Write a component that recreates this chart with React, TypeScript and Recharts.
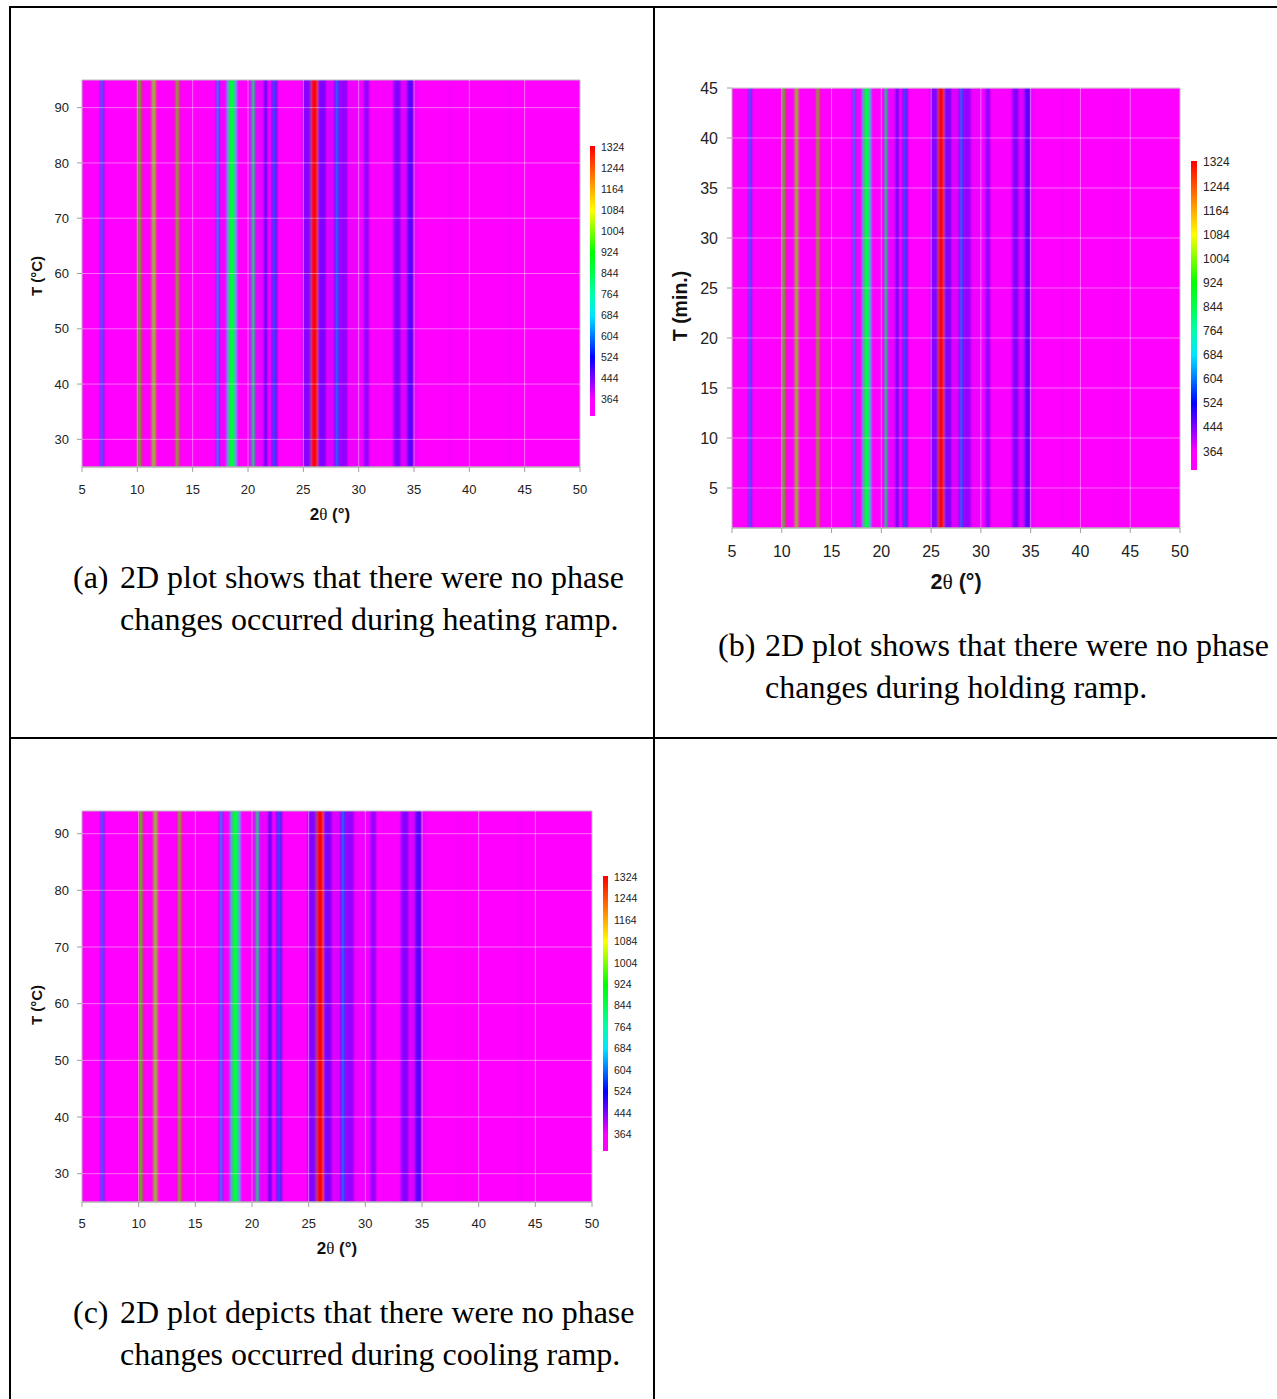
import React from "react";
import { ComposedChart, XAxis, YAxis, Scatter, ReferenceArea, ReferenceLine } from "recharts";

// diffraction intensity bands along 2θ: [from, to, counts]
const bands: [number, number, number][] = [
  [6.68, 6.75, 520], [6.75, 6.88, 650], [6.88, 6.95, 520],
  [10.02, 10.1, 1290], [10.1, 10.32, 930], [10.32, 10.4, 1290],
  [11.3, 11.38, 1200], [11.38, 11.6, 980], [11.6, 11.66, 1200],
  [13.45, 13.52, 1290], [13.52, 13.72, 960], [13.72, 13.8, 1290],
  [17.15, 17.22, 520], [17.22, 17.4, 660], [17.4, 17.48, 520],
  [17.48, 18.1, 370],
  [18.1, 18.25, 700], [18.25, 18.82, 860], [18.82, 18.96, 700],
  [20.3, 20.38, 600], [20.38, 20.62, 840], [20.62, 20.7, 600],
  [20.7, 21.45, 376],
  [21.45, 21.78, 470],
  [21.78, 22.2, 376],
  [22.2, 22.3, 520], [22.3, 22.5, 600], [22.5, 22.6, 520],
  [24.95, 25.55, 440], [25.55, 25.7, 480],
  [25.7, 25.78, 1000], [25.78, 26.28, 1324], [26.28, 26.36, 1050],
  [26.36, 27.1, 445],
  [27.1, 27.85, 385],
  [27.85, 27.95, 520], [27.95, 28.2, 610], [28.2, 28.3, 520],
  [28.3, 29.05, 430],
  [29.05, 30.3, 374],
  [30.45, 31.0, 430],
  [31.0, 33.15, 368],
  [33.15, 33.85, 440],
  [33.85, 34.4, 385],
  [34.4, 35.0, 470],
  [35.0, 35.4, 374],
  [37.9, 38.5, 368],
  [43.4, 44.0, 367],
];
const baseCounts = 364;

const twoThetaTicks = [5, 10, 15, 20, 25, 30, 35, 40, 45, 50];
const tempTicks = [30, 40, 50, 60, 70, 80, 90];
const timeTicks = [5, 10, 15, 20, 25, 30, 35, 40, 45];
const scaleTicks = [1324, 1244, 1164, 1084, 1004, 924, 844, 764, 684, 604, 524, 444, 364];
const scaleDomain: [number, number] = [302, 1328];

// hue of the rainbow scale at each count level
const hueStops: [number, number][] = [
  [364, 300], [444, 270], [524, 240], [604, 212], [684, 186], [764, 160],
  [844, 138], [924, 120], [1004, 90], [1084, 60], [1164, 40], [1244, 20], [1324, 0],
];

function countColor(v: number) {
  if (v <= hueStops[0][0]) return "hsl(300,100%,50%)";
  for (let i = 1; i < hueStops.length; i++) {
    const [v0, h0] = hueStops[i - 1];
    const [v1, h1] = hueStops[i];
    if (v <= v1) return `hsl(${h0 + ((h1 - h0) * (v - v0)) / (v1 - v0)},100%,50%)`;
  }
  return "hsl(0,100%,50%)";
}

const sans = "'Liberation Sans', Arial, sans-serif";
const serif = "'Liberation Serif', 'Times New Roman', serif";

type Box = { x: number; y: number; w: number; h: number };
type Bar = { x: number; top: number; bottom: number; w: number; font: number };

// invisible corner points so the axes get a data range
const Hidden = () => <g />;

function ColorBar({ bar, id }: { bar: Bar; id: string }) {
  const h = bar.bottom - bar.top;
  const span = scaleDomain[1] - scaleDomain[0];
  const corners = [
    { x: 0, y: scaleDomain[0] },
    { x: 1, y: scaleDomain[1] },
  ];
  return (
    <div style={{ position: "absolute", left: bar.x, top: bar.top - 10, fontFamily: sans }}>
      <ComposedChart width={bar.w + 45} height={h + 20} margin={{ top: 10, bottom: 10, left: 0, right: 0 }}>
        <defs>
          <linearGradient id={id} x1="0" y1="0" x2="0" y2="1">
            {scaleTicks.map((t) => (
              <stop key={t} offset={(scaleDomain[1] - t) / span} stopColor={countColor(t)} />
            ))}
            <stop offset={1} stopColor={countColor(baseCounts)} />
          </linearGradient>
        </defs>
        <XAxis type="number" dataKey="x" domain={[0, 1]} hide />
        <YAxis
          type="number"
          dataKey="y"
          orientation="right"
          domain={scaleDomain}
          ticks={scaleTicks}
          interval={0}
          width={45}
          tickSize={0}
          tickMargin={6}
          axisLine={false}
          tickLine={false}
          tick={{ fontSize: bar.font, fill: "#222" }}
        />
        <Scatter data={corners} shape={Hidden} isAnimationActive={false} />
        <ReferenceArea x1={0} x2={1} y1={scaleDomain[0]} y2={scaleDomain[1]} fill={`url(#${id})`} fillOpacity={1} stroke="none" />
      </ComposedChart>
    </div>
  );
}

type PanelProps = {
  plot: Box;
  yDomain: [number, number];
  yTicks: number[];
  yTitle: string;
  font: number;
  yTickGap: number;
  xTickGap: number;
  titleFont: number;
  yTitleAt: [number, number];
  xTitleAt: [number, number];
  bar: Bar;
  id: string;
};

function Heatmap(p: PanelProps) {
  const { plot, yDomain } = p;
  const grid = "rgba(255,255,255,0.42)";
  const w = plot.w + 80;
  const h = plot.h + 60;
  const corners = [
    { x: 5, y: yDomain[0] },
    { x: 50, y: yDomain[1] },
  ];
  const title: React.CSSProperties = {
    position: "absolute",
    fontFamily: sans,
    fontWeight: 700,
    whiteSpace: "nowrap",
    color: "#111",
  };
  return (
    <>
      <div style={{ position: "absolute", left: plot.x - 70, top: plot.y - 20, fontFamily: sans }}>
        <ComposedChart width={w} height={h} margin={{ top: 20, right: 10, bottom: 0, left: 30 }}>
          <defs>
            {/* soften the stripe edges sideways only */}
            <filter id={`${p.id}-soft`} filterUnits="userSpaceOnUse" x={0} y={0} width={w} height={h}>
              <feGaussianBlur stdDeviation="0.9 0" />
            </filter>
          </defs>
          <XAxis
            type="number"
            dataKey="x"
            domain={[5, 50]}
            ticks={twoThetaTicks}
            interval={0}
            allowDataOverflow
            height={40}
            tickSize={5}
            tickMargin={p.xTickGap}
            axisLine={{ stroke: "#b4b4b4" }}
            tickLine={{ stroke: "#a0a0a0" }}
            tick={{ fontSize: p.font, fill: "#222" }}
          />
          <YAxis
            type="number"
            dataKey="y"
            domain={yDomain}
            ticks={p.yTicks}
            interval={0}
            allowDataOverflow
            width={40}
            tickSize={5}
            tickMargin={p.yTickGap}
            axisLine={false}
            tickLine={{ stroke: "#a0a0a0" }}
            tick={{ fontSize: p.font, fill: "#222" }}
          />
          <Scatter data={corners} shape={Hidden} isAnimationActive={false} />
          <ReferenceArea x1={5} x2={50} y1={yDomain[0]} y2={yDomain[1]} fill={countColor(baseCounts)} fillOpacity={1} stroke="none" />
          {bands.map(([a, b, v]) => (
            <ReferenceArea
              key={`${a}-${b}`}
              x1={a}
              x2={b}
              y1={yDomain[0]}
              y2={yDomain[1]}
              fill={countColor(v)}
              fillOpacity={1}
              stroke="none"
              filter={`url(#${p.id}-soft)`}
            />
          ))}
          {twoThetaTicks.slice(1, -1).map((t) => (
            <ReferenceLine key={`x${t}`} x={t} stroke={grid} />
          ))}
          {p.yTicks.map((t) => (
            <ReferenceLine key={`y${t}`} y={t} stroke={grid} />
          ))}
          <ReferenceArea x1={5} x2={50} y1={yDomain[0]} y2={yDomain[1]} fill="none" fillOpacity={0} stroke="#b8b8b8" />
        </ComposedChart>
      </div>
      <ColorBar bar={p.bar} id={p.id} />
      <div
        style={{
          ...title,
          left: p.yTitleAt[0],
          top: p.yTitleAt[1],
          transform: "translate(-50%,-50%) rotate(-90deg)",
          fontSize: p.titleFont,
        }}
      >
        {p.yTitle}
      </div>
      <div style={{ ...title, left: p.xTitleAt[0], top: p.xTitleAt[1], transform: "translate(-50%,-50%)", fontSize: p.titleFont + 2 }}>
        2<span style={{ fontWeight: 400, fontFamily: serif }}>θ</span> (°)
      </div>
    </>
  );
}

function Caption({ x, y, tag, lines }: { x: number; y: number; tag: string; lines: string[] }) {
  const style: React.CSSProperties = {
    position: "absolute",
    top: y,
    fontFamily: serif,
    fontSize: 32,
    lineHeight: "42px",
    whiteSpace: "nowrap",
    color: "#000",
  };
  return (
    <>
      <div style={{ ...style, left: x }}>{tag}</div>
      <div style={{ ...style, left: x + 47 }}>
        {lines.map((l) => (
          <div key={l}>{l}</div>
        ))}
      </div>
    </>
  );
}

const rule = (left: number, top: number, width: number, height: number) => (
  <div style={{ position: "absolute", left, top, width, height, background: "#000" }} />
);

export default function App() {
  return (
    <div style={{ position: "absolute", left: 0, top: 0, width: 1277, height: 1399, background: "#fff", overflow: "hidden" }}>
      {rule(9, 6, 1268, 2)}
      {rule(9, 6, 2, 1393)}
      {rule(653, 6, 2, 1393)}
      {rule(9, 737, 1268, 2)}

      <Heatmap
        id="scaleA"
        plot={{ x: 82, y: 80, w: 498, h: 387 }}
        yDomain={[25, 95]}
        yTicks={tempTicks}
        yTitle="T (°C)"
        font={13}
        yTickGap={8}
        xTickGap={13}
        titleFont={15}
        yTitleAt={[36, 276]}
        xTitleAt={[330, 515]}
        bar={{ x: 590, top: 146, bottom: 416, w: 5, font: 10.5 }}
      />
      <Caption x={73} y={556} tag="(a)" lines={["2D plot shows that there were no phase", "changes occurred during heating ramp."]} />

      <Heatmap
        id="scaleB"
        plot={{ x: 732, y: 88, w: 448, h: 440 }}
        yDomain={[1, 45]}
        yTicks={timeTicks}
        yTitle="T (min.)"
        font={16}
        yTickGap={9}
        xTickGap={13}
        titleFont={19.5}
        yTitleAt={[680, 306]}
        xTitleAt={[956, 582]}
        bar={{ x: 1191, top: 161, bottom: 470, w: 6, font: 12 }}
      />
      <Caption x={718} y={624} tag="(b)" lines={["2D plot shows that there were no phase", "changes during holding ramp."]} />

      <Heatmap
        id="scaleC"
        plot={{ x: 82, y: 811, w: 510, h: 391 }}
        yDomain={[25, 94]}
        yTicks={tempTicks}
        yTitle="T (°C)"
        font={13}
        yTickGap={8}
        xTickGap={12}
        titleFont={15}
        yTitleAt={[36, 1005]}
        xTitleAt={[337, 1249]}
        bar={{ x: 603, top: 876, bottom: 1151, w: 5, font: 10.5 }}
      />
      <Caption x={73} y={1291} tag="(c)" lines={["2D plot depicts that there were no phase", "changes occurred during cooling ramp."]} />
    </div>
  );
}
